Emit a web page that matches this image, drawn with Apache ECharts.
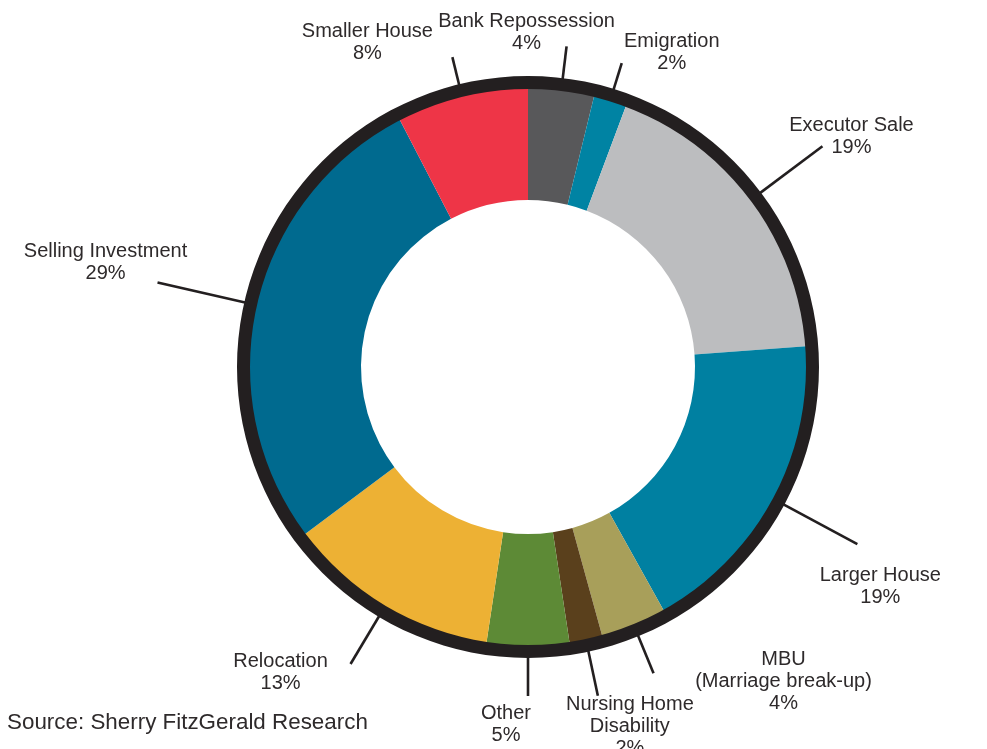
<!DOCTYPE html>
<html>
<head>
<meta charset="utf-8">
<title>Reasons for selling</title>
<script src="https://cdn.jsdelivr.net/npm/echarts@6/dist/echarts.min.js"></script>
<style>
  html, body { margin: 0; padding: 0; background: #ffffff; }
  #chart { width: 987px; height: 749px; }
</style>
</head>
<body>
<div id="chart"></div>
<script>
// Reasons for selling, share of sales (%)
const categories = [
  'Bank Repossession',
  'Emigration',
  'Executor Sale',
  'Larger House',
  'MBU\n(Marriage break-up)',
  'Nursing Home\nDisability',
  'Other',
  'Relocation',
  'Selling Investment',
  'Smaller House'
];
const shares = [4, 2, 19, 19, 4, 2, 5, 13, 29, 8];

// Styling, kept apart from the data
const sliceColors = [
  '#58585a', '#0083a3', '#bcbdbf', '#0080a1', '#a89f5a',
  '#5a401c', '#5d8a36', '#edb134', '#006a8f', '#ee3547'
];
// leader length beyond the coloured ring, and where each label sits relative to the leader's end
const leaderLengths = [44, 39, 89, 95, 52, 57, 50, 67, 101, 40];
const labelOffsets = [
  [-40, -14], [50, -11], [29, -10], [23, 42], [130, 8],
  [32, 31], [-22, 28], [-70, 8], [-52, -20], [-85, -15]
];

const INK = '#231f20';
const TEXT = '#2e2a2b';
const FONT = '"Liberation Sans", Arial, Helvetica, sans-serif';

const chart = echarts.init(document.getElementById('chart'), null, { renderer: 'canvas' });

const sliceData = categories.map((name, i) => ({
  name: name,
  value: shares[i],
  itemStyle: { color: sliceColors[i] },
  labelLine: { length: leaderLengths[i], length2: 0 }
}));

// Centre each label at a fixed offset from the end of its leader line
function placeLabel(p) {
  const pts = p.labelLinePoints;
  if (!pts || pts.length < 2) return {};
  const s = pts[0];
  const e = pts[pts.length - 1];
  const off = labelOffsets[p.dataIndex] || [0, 0];
  return {
    x: e[0] + off[0],
    y: e[1] + off[1],
    align: 'center',
    verticalAlign: 'middle',
    labelLinePoints: [s.slice(), e.slice(), e.slice()]
  };
}

chart.setOption({
  backgroundColor: '#ffffff',
  animation: false,
  title: {
    text: 'Source: Sherry FitzGerald Research',
    left: 7,
    top: 712,
    padding: 0,
    textStyle: { fontFamily: FONT, fontSize: 22.4, fontWeight: 'normal', color: TEXT }
  },
  series: [
    {
      type: 'pie',
      name: 'Reasons',
      center: [528, 367],
      radius: [167, 279],
      startAngle: 90,
      clockwise: true,
      avoidLabelOverlap: false,
      itemStyle: { borderWidth: 0 },
      emphasis: { disabled: true },
      label: {
        show: true,
        position: 'outside',
        formatter: '{b}\n{c}%',
        fontFamily: FONT,
        fontSize: 20,
        lineHeight: 22,
        color: TEXT,
        distanceToLabelLine: 0
      },
      labelLine: {
        show: true,
        smooth: false,
        lineStyle: { color: INK, width: 2.6 }
      },
      labelLayout: placeLabel,
      data: sliceData,
      z: 2
    },
    {
      // dark outer rim around the ring
      type: 'pie',
      name: 'rim',
      center: [528, 367],
      radius: [278, 291],
      silent: true,
      label: { show: false },
      labelLine: { show: false },
      emphasis: { disabled: true },
      itemStyle: { color: INK },
      data: [{ value: 1, name: '' }],
      z: 3
    }
  ]
});
</script>
</body>
</html>
